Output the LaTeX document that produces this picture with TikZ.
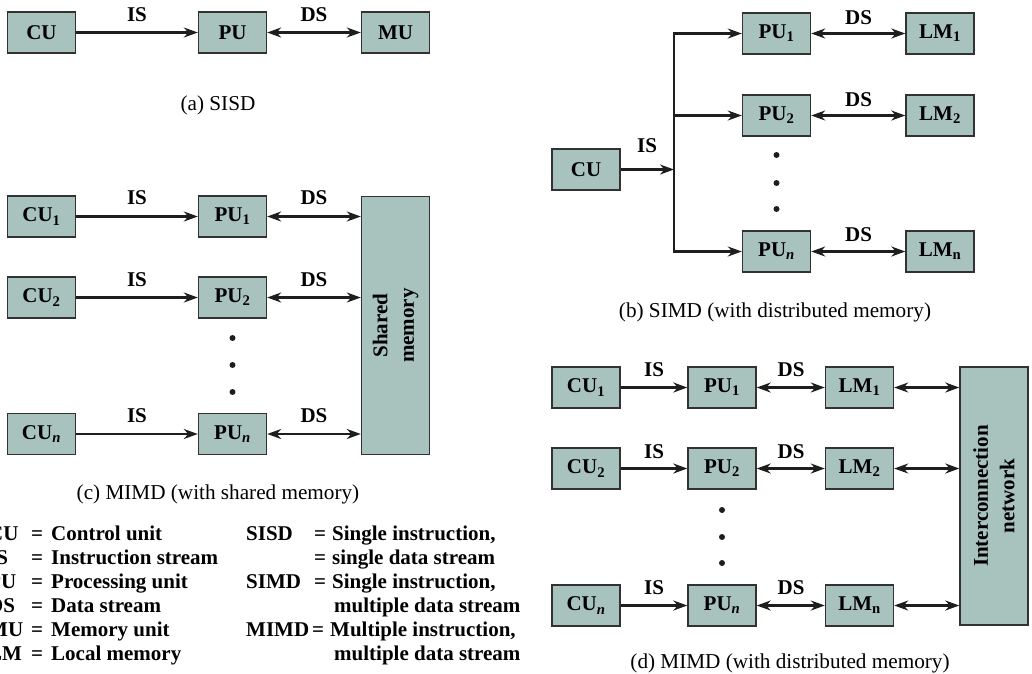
\documentclass[tikz,border=0pt]{standalone}
\usepackage{fontspec}
\setmainfont{Liberation Serif}
\usetikzlibrary{arrows.meta}
\definecolor{boxfill}{RGB}{168,195,190}
\definecolor{edge}{RGB}{50,50,50}
\definecolor{ink}{RGB}{30,30,30}
\newcommand{\lblfont}{\bfseries\fontsize{21}{26}\selectfont}
\newcommand{\capfont}{\fontsize{21.2}{25}\selectfont}
\begin{document}
\begin{tikzpicture}[x=1pt,y=-1pt,
  ubox/.style={draw=edge, line width=1.4pt, fill=boxfill, minimum width=68pt, minimum height=41pt, inner sep=0pt, font=\lblfont},
  tall/.style={ubox, minimum width=258pt, minimum height=68pt, rotate=90, align=center, font=\bfseries\fontsize{21}{26.5}\selectfont},
  stl/.tip={Stealth[length=14pt,width=10pt,inset=4.5pt]},
  arr/.style={draw=ink, line width=2.2pt, -stl},
  darr/.style={draw=ink, line width=2.2pt, stl-stl},
  tag/.style={font=\lblfont, inner sep=0pt},
  capt/.style={font=\capfont, inner sep=0pt, anchor=base},
  leg/.style={font=\lblfont, anchor=base west, inner sep=0pt},
  dotn/.style={circle, fill=ink, minimum size=6pt, inner sep=0pt}]
\useasboundingbox (0,0) rectangle (1032,673);

% ---------- (a) SISD ----------
\node[ubox] (acu) at (41.5,32.5) {CU};
\node[ubox] (apu) at (232.5,32.5) {PU};
\node[ubox] (amu) at (395.5,32.5) {MU};
\draw[arr] (acu) -- (apu);
\draw[darr] (apu) -- (amu);
\node[tag] (ais) at (137,14.5) {IS};
\node[tag] (ads) at (314,14.5) {DS};
\node[capt] (acap) at (218,110) {(a) SISD};

% ---------- (c) MIMD shared memory ----------
\node[ubox] (ccu1) at (41.5,216.5) {CU\textsubscript{1}};
\node[ubox] (ccu2) at (41.5,297.5) {CU\textsubscript{2}};
\node[ubox] (ccun) at (41.5,434) {CU\textsubscript{\textit{n}}};
\node[ubox] (cpu1) at (232.5,216.5) {PU\textsubscript{1}};
\node[ubox] (cpu2) at (232.5,297.5) {PU\textsubscript{2}};
\node[ubox] (cpun) at (232.5,434) {PU\textsubscript{\textit{n}}};
\node[tall] (csm) at (395.5,325.5) {Shared\\memory};
\draw[arr] (ccu1) -- (cpu1);
\draw[arr] (ccu2) -- (cpu2);
\draw[arr] (ccun) -- (cpun);
\draw[darr] (cpu1) -- (cpu1 -| csm.north);
\draw[darr] (cpu2) -- (cpu2 -| csm.north);
\draw[darr] (cpun) -- (cpun -| csm.north);
\node[tag] (cis1) at (137,197.5) {IS};
\node[tag] (cis2) at (137,279.5) {IS};
\node[tag] (cisn) at (137,415.5) {IS};
\node[tag] (cds1) at (314,197.5) {DS};
\node[tag] (cds2) at (314,279.5) {DS};
\node[tag] (cdsn) at (314,415.5) {DS};
\node[dotn] (cd1) at (232.5,338) {};
\node[dotn] (cd2) at (232.5,365) {};
\node[dotn] (cd3) at (232.5,392) {};
\node[capt] (ccap) at (218,499) {(c) MIMD (with shared memory)};

% ---------- (b) SIMD ----------
\node[ubox] (bcu) at (586,169.5) {CU};
\node[ubox] (bpu1) at (776.5,33.5) {PU\textsubscript{1}};
\node[ubox] (bpu2) at (776.5,115.5) {PU\textsubscript{2}};
\node[ubox] (bpun) at (776.5,251.5) {PU\textsubscript{\textit{n}}};
\node[ubox] (blm1) at (940,33.5) {LM\textsubscript{1}};
\node[ubox] (blm2) at (940,115.5) {LM\textsubscript{2}};
\node[ubox] (blmn) at (940,251.5) {LM\textsubscript{n}};
\coordinate (bbus) at (674,169.5);
\draw[arr] (bcu) -- (bbus);
\draw[arr, line join=miter] (bbus) |- (bpu1.west);
\draw[arr, line join=miter] (bbus) |- (bpun.west);
\draw[arr] (bbus |- bpu2) -- (bpu2.west);
\draw[darr] (bpu1) -- (blm1);
\draw[darr] (bpu2) -- (blm2);
\draw[darr] (bpun) -- (blmn);
\node[tag] (bis) at (647,146) {IS};
\node[tag] (bds1) at (858.5,17.5) {DS};
\node[tag] (bds2) at (858.5,99.5) {DS};
\node[tag] (bdsn) at (858.5,234.5) {DS};
\node[dotn] (bd1) at (776.5,155) {};
\node[dotn] (bd2) at (776.5,183) {};
\node[dotn] (bd3) at (776.5,209) {};
\node[capt] (bcap) at (775,317) {(b) SIMD (with distributed memory)};

% ---------- (d) MIMD distributed memory ----------
\node[ubox] (dcu1) at (586,387.5) {CU\textsubscript{1}};
\node[ubox] (dcu2) at (586,468.5) {CU\textsubscript{2}};
\node[ubox] (dcun) at (586,605.5) {CU\textsubscript{\textit{n}}};
\node[ubox] (dpu1) at (722,387.5) {PU\textsubscript{1}};
\node[ubox] (dpu2) at (722,468.5) {PU\textsubscript{2}};
\node[ubox] (dpun) at (722,605.5) {PU\textsubscript{\textit{n}}};
\node[ubox] (dlm1) at (859.5,387.5) {LM\textsubscript{1}};
\node[ubox] (dlm2) at (859.5,468.5) {LM\textsubscript{2}};
\node[ubox] (dlmn) at (859.5,605.5) {LM\textsubscript{n}};
\node[tall] (din) at (994,496) {Interconnection\\network};
\draw[arr] (dcu1) -- (dpu1);
\draw[arr] (dcu2) -- (dpu2);
\draw[arr] (dcun) -- (dpun);
\draw[darr] (dpu1) -- (dlm1);
\draw[darr] (dpu2) -- (dlm2);
\draw[darr] (dpun) -- (dlmn);
\draw[darr] (dlm1) -- (dlm1 -| din.north);
\draw[darr] (dlm2) -- (dlm2 -| din.north);
\draw[darr] (dlmn) -- (dlmn -| din.north);
\node[tag] (dis1) at (654,370) {IS};
\node[tag] (dis2) at (654,451.5) {IS};
\node[tag] (disn) at (654,587.5) {IS};
\node[tag] (dds1) at (791,370) {DS};
\node[tag] (dds2) at (791,451.5) {DS};
\node[tag] (ddsn) at (791,587.5) {DS};
\node[dotn] (dd1) at (722,510) {};
\node[dotn] (dd2) at (722,537) {};
\node[dotn] (dd3) at (722,563) {};
\node[capt] (dcap) at (790,668) {(d) MIMD (with distributed memory)};

% ---------- legend ----------
\node[leg] (l1a) at (-12,540) {CU};
\node[leg] (l2a) at (-12,564) {IS};
\node[leg] (l3a) at (-12,588) {PU};
\node[leg] (l4a) at (-12,612) {DS};
\node[leg] (l5a) at (-12,636) {MU};
\node[leg] (l6a) at (-12,660) {LM};
\node[leg] (l1e) at (31,540) {=};
\node[leg] (l2e) at (31,564) {=};
\node[leg] (l3e) at (31,588) {=};
\node[leg] (l4e) at (31,612) {=};
\node[leg] (l5e) at (31,636) {=};
\node[leg] (l6e) at (31,660) {=};
\node[leg] (l1b) at (51,540) {Control unit};
\node[leg] (l2b) at (51,564) {Instruction stream};
\node[leg] (l3b) at (51,588) {Processing unit};
\node[leg] (l4b) at (51,612) {Data stream};
\node[leg] (l5b) at (51,636) {Memory unit};
\node[leg] (l6b) at (51,660) {Local memory};
\node[leg] (r1a) at (246,540) {SISD};
\node[leg] (r3a) at (246,588) {SIMD};
\node[leg] (r5a) at (246,636) {MIMD};
\node[leg] (r1e) at (314,540) {=};
\node[leg] (r2e) at (314,564) {=};
\node[leg] (r3e) at (314,588) {=};
\node[leg] (r5e) at (312,636) {=};
\node[leg] (r1b) at (332,540) {Single instruction,};
\node[leg] (r2b) at (332,564) {single data stream};
\node[leg] (r3b) at (332,588) {Single instruction,};
\node[leg] (r4b) at (334,612) {multiple data stream};
\node[leg] (r5b) at (330,636) {Multiple instruction,};
\node[leg] (r6b) at (334,660) {multiple data stream};
\end{tikzpicture}
\end{document}
